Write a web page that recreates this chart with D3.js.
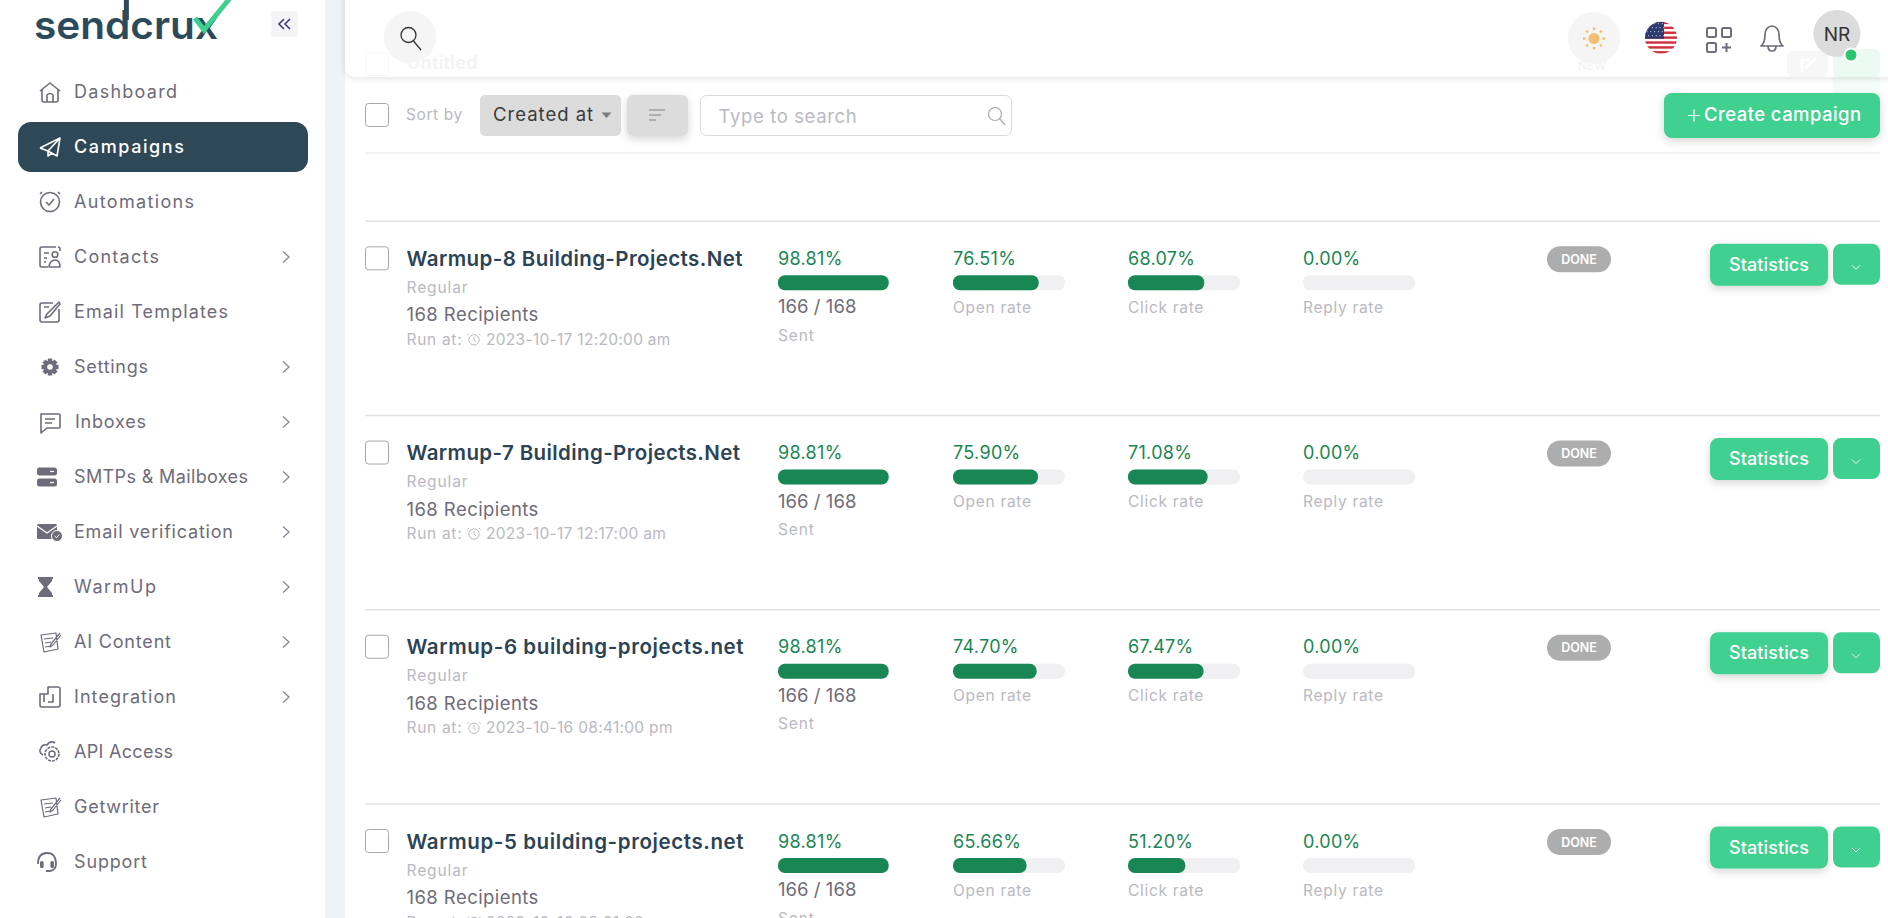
<!DOCTYPE html>
<html lang="en">
<head>
<meta charset="UTF-8">
<title>Campaigns</title>
<script src="https://d3js.org/d3.v7.min.js"></script>
<style>
  html, body { margin: 0; padding: 0; background: #fff; overflow: hidden; }
  svg { display: block; }
  text { font-family: Inter, "Open Sans", sans-serif; }
</style>
</head>
<body>
<svg id="page" width="1888" height="918"></svg>
<script>
// nav items
const navLabels = ["Dashboard","Campaigns","Automations","Contacts","Email Templates","Settings","Inboxes","SMTPs & Mailboxes","Email verification","WarmUp","AI Content","Integration","API Access","Getwriter","Support"];
const navIcons = ["home","plane","alarm","contacts","template","gear","chat","server","mail","hourglass","note","integration","api","note","headset"];
const navHasArrow = [0,0,0,1,0,1,1,1,1,1,1,1,0,0,0];

// campaign rows
const campaignNames = ["Warmup-8 Building-Projects.Net","Warmup-7 Building-Projects.Net","Warmup-6 building-projects.net","Warmup-5 building-projects.net"];
const runTimes = ["2023-10-17 12:20:00 am","2023-10-17 12:17:00 am","2023-10-16 08:41:00 pm","2023-10-16 08:21:00 pm"];
const sentRate = [98.81,98.81,98.81,98.81];
const openRate = [76.51,75.90,74.70,65.66];
const clickRate = [68.07,71.08,67.47,51.20];
const replyRate = [0,0,0,0];
const sentCount = ["166 / 168","166 / 168","166 / 168","166 / 168"];
const recipients = ["168 Recipients","168 Recipients","168 Recipients","168 Recipients"];
const metricLabels = ["Sent","Open rate","Click rate","Reply rate"];
const metricSeries = [sentRate,openRate,clickRate,replyRate];

const NAVY = "#2f4858", GREY = "#6e6b7b", MUTED = "#b9b9c3", GREEN = "#198754", MINT = "#3fd08f", TRACK = "#f0f0f2";

// Poppins is not installed, so these labels are fitted to the widths they have in the screenshot
const navTextWidths = [103,110,120,85,154,74,71,174,159,82,97,102,99,85,73];
const titleTextWidths = [336,333.5,337,337];

const svg = d3.select("#page");
const defs = svg.append("defs");

const shadow = (id, dy, blur, op) => {
  const f = defs.append("filter").attr("id", id).attr("x", "-20%").attr("y", "-30%").attr("width", "140%").attr("height", "170%");
  f.append("feDropShadow").attr("dx", 0).attr("dy", dy).attr("stdDeviation", blur).attr("flood-color", "#000").attr("flood-opacity", op);
};
shadow("barShadow", 1, 3, 0.13);
shadow("btnShadow", 3, 4, 0.16);

const ghost = defs.append("linearGradient").attr("id", "ghostGreen").attr("x1", 0).attr("y1", 0).attr("x2", 0).attr("y2", 1);
ghost.append("stop").attr("offset", 0).attr("stop-color", "#3fd08f").attr("stop-opacity", 0.12);
ghost.append("stop").attr("offset", 1).attr("stop-color", "#3fd08f").attr("stop-opacity", 0.04);

const flagClip = defs.append("clipPath").attr("id", "flagClip");
flagClip.append("circle").attr("r", 16);

function label(g, x, y, str, size, fill, opts) {
  const o = opts || {};
  const t = g.append("text").attr("x", x).attr("y", y)
    .attr("dominant-baseline", "central")
    .attr("text-anchor", o.anchor || "start")
    .attr("font-size", size)
    .attr("font-weight", o.weight || 400)
    .attr("letter-spacing", o.ls == null ? 0.35 : o.ls)
    .attr("fill", fill)
    .text(str);
  if (o.fit) t.attr("letter-spacing", null).attr("textLength", o.fit).attr("lengthAdjust", "spacing");
  return t;
}

// page backgrounds
svg.append("rect").attr("width", 1888).attr("height", 918).attr("fill", "#fff");
svg.append("rect").attr("x", 325).attr("width", 20).attr("height", 918).attr("fill", "#eff2f6");

/* ---------- sidebar ---------- */
const side = svg.append("g");
const logo = side.append("g");
const logoText = logo.append("text").attr("x", 34).attr("y", 38.5).attr("font-size", 39).attr("font-weight", 600)
  .attr("fill", "#2b4a5c").attr("textLength", 184).attr("lengthAdjust", "spacingAndGlyphs").text("sendcrux");
// the d of the logo runs off the top of the page
const dBox = logoText.node().getExtentOfChar(3);
logo.append("path").attr("d", `M${dBox.x + dBox.width - 4} 0V20`).attr("stroke", "#2b4a5c").attr("stroke-width", 5);
logo.append("path").attr("d", "M195 18L204 30L230 -2").attr("fill", "none").attr("stroke", "#3fd08f").attr("stroke-width", 5);

side.append("rect").attr("x", 271).attr("y", 11).attr("width", 27).attr("height", 26).attr("rx", 3).attr("fill", "#f5f5f7");
side.append("path").attr("d", "M284 19L279 24L284 29M290 19L285 24L290 29").attr("fill", "none").attr("stroke", "#41397a").attr("stroke-width", 1.6);

const navY = d3.scaleLinear().domain([0, navLabels.length - 1]).range([92, 862]);

side.append("rect").attr("x", 18).attr("y", navY(1) - 25).attr("width", 290).attr("height", 50).attr("rx", 13).attr("fill", NAVY);

// icons are drawn around (0,0), about 20px across
const iconPaths = {
  home: "M-10 -1L0 -9L10 -1M-8 -2V8Q-8 10 -6 10H6Q8 10 8 8V-2M-3 10V3Q0 0 3 3V10",
  plane: "M-10 1L10 -9L7 9L-2 4L-10 1M-2 4L10 -9M-2 4V9L2 6",
  alarm: "M-8 -10L-10 -8M8 -10L10 -8M-4 0L-1 3L4 -3",
  contacts: "M6 -10H-8Q-10 -10 -10 -8V8Q-10 10 -8 10H-2M-6 -4H-1M-6 1H-3M-6 5H-4M10 -6V-8Q10 -10 8 -10M-1 10Q0 3 5 3Q10 3 10 10Z",
  template: "M3 -9H-8Q-10 -9 -10 -7V8Q-10 10 -8 10H7Q9 10 9 8V-3M-6 -5H-1M-5 6L-3 2L9 -10L10 -8L0 4Z",
  chat: "M-9 -8H9Q10 -8 10 -7V5Q10 6 9 6H-3L-9 11V-7Q-9 -8 -9 -8ZM-5 -3H5M-5 1H2",
  note: "M-9 -7L6 -9L8 7L-6 10ZM-6 -3L3 -4M-5 1L1 0M-5 5L1 4M10 -9L1 2L0 5L3 3L11 -7",
  integration: "M-2 -10H8Q10 -10 10 -8V8Q10 10 8 10H-8Q-10 10 -10 8V-3H-2ZM-6 -3V5M-2 5H3V-3"
};

const navG = side.selectAll("g.nav").data(navLabels).join("g").attr("class", "nav")
  .attr("transform", (d, i) => `translate(0,${navY(i)})`);

navG.each(function(d, i) {
  const g = d3.select(this);
  const color = i === 1 ? "#fff" : GREY;
  const ic = g.append("g").attr("transform", "translate(50,0)");
  const name = navIcons[i];
  if (iconPaths[name]) {
    ic.append("path").attr("d", iconPaths[name]).attr("fill", "none").attr("stroke", color)
      .attr("stroke-width", name === "note" ? 1.2 : 1.6).attr("stroke-linejoin", "round");
  }
  if (name === "alarm") {
    ic.append("circle").attr("r", 9.5).attr("fill", "none").attr("stroke", color).attr("stroke-width", 1.6);
  }
  if (name === "contacts") {
    ic.append("circle").attr("cx", 5).attr("cy", -2.5).attr("r", 2.8).attr("fill", "none").attr("stroke", color).attr("stroke-width", 1.6);
  }
  if (name === "gear") {
    ic.append("path").attr("d", d3.range(8).map(k => {
      const a = k * Math.PI / 4;
      return `M${4 * Math.cos(a)} ${4 * Math.sin(a)}L${8.5 * Math.cos(a)} ${8.5 * Math.sin(a)}`;
    }).join("")).attr("stroke", color).attr("stroke-width", 4.4);
    ic.append("circle").attr("r", 6.5).attr("fill", color);
    ic.append("circle").attr("r", 2.8).attr("fill", "#fff");
  }
  if (name === "server") {
    [-9.5, 1.5].forEach(y => {
      ic.append("rect").attr("x", -13).attr("y", y).attr("width", 20).attr("height", 8).attr("rx", 2.5).attr("fill", color);
      ic.append("path").attr("d", `M0 ${y + 4}H4`).attr("stroke", "#fff").attr("stroke-width", 1.2);
    });
  }
  if (name === "mail") {
    ic.append("rect").attr("x", -13).attr("y", -8).attr("width", 20).attr("height", 15).attr("rx", 1.5).attr("fill", color);
    ic.append("path").attr("d", "M-13 -6L-3 1L7 -6").attr("fill", "none").attr("stroke", "#fff").attr("stroke-width", 1.3);
    ic.append("circle").attr("cx", 7).attr("cy", 4).attr("r", 5.5).attr("fill", color).attr("stroke", "#fff");
    ic.append("path").attr("d", "M4.8 4L6.5 5.7L9.4 2.6").attr("fill", "none").attr("stroke", "#fff");
  }
  if (name === "hourglass") {
    ic.append("path").attr("d", "M-12 -10H3V-8H2V-6L-3 0L2 6V8H3V10H-12V8H-11V6L-6 0L-11 -6V-8H-12Z").attr("fill", color);
  }
  if (name === "api") {
    ic.append("circle").attr("r", 7).attr("cx", 2).attr("cy", 2).attr("fill", "none").attr("stroke", color).attr("stroke-width", 1.6).attr("stroke-dasharray", "3 1");
    ic.append("circle").attr("r", 3).attr("cx", 2).attr("cy", 2).attr("fill", "none").attr("stroke", color).attr("stroke-width", 1.5);
    ic.append("path").attr("d", "M-7 3Q-12 0 -9 -4Q-8 -8 -3 -7Q0 -12 5 -9").attr("fill", "none").attr("stroke", color).attr("stroke-width", 1.5);
  }
  if (name === "headset") {
    ic.append("path").attr("d", "M-12 2Q-12 -9 -3 -9Q6 -9 6 2Q6 8 0 9H-4").attr("fill", "none").attr("stroke", color).attr("stroke-width", 1.8);
    ic.append("rect").attr("x", -10).attr("y", -1).attr("width", 3.6).attr("height", 7).attr("rx", 1.6).attr("fill", color);
    ic.append("rect").attr("x", 0.4).attr("y", -1).attr("width", 3.6).attr("height", 7).attr("rx", 1.6).attr("fill", color);
  }
  label(g, name === "chat" ? 75 : 74, -1, d, 18, color, { weight: i === 1 ? 500 : 400, fit: navTextWidths[i] });
  if (navHasArrow[i]) {
    g.append("path").attr("d", "M283 -5.5L289 0L283 5.5").attr("fill", "none").attr("stroke", "#8a8796").attr("stroke-width", 1.3);
  }
});

/* ---------- campaign rows ---------- */
const rowTop = d3.scaleLinear().domain([0, 3]).range([221.3, 804]);
const columnX = [778, 953, 1128, 1303];
const barWidth = d3.scaleLinear().domain([0, 100]).range([0, 112]);

const main = svg.append("g");
const checkbox = (g, x, y) => g.append("rect").attr("x", x + 0.5).attr("y", y + 0.5).attr("width", 23).attr("height", 23)
  .attr("rx", 3).attr("fill", "#fff").attr("stroke", "#a8a8ae");

const rows = main.selectAll("g.row").data(campaignNames).join("g").attr("class", "row")
  .attr("transform", (d, i) => `translate(0,${rowTop(i)})`);

rows.each(function(d, i) {
  const g = d3.select(this);
  g.append("line").attr("x1", 365).attr("x2", 1880).attr("stroke", "#e2e2e4").attr("stroke-width", 1.4);
  checkbox(g, 365, 25);
  label(g, 406.5, 37, d, 20.5, "#2c4356", { weight: 600, fit: titleTextWidths[i] });
  label(g, 406.5, 66, "Regular", 15.5, MUTED, { ls: 0.9 });
  label(g, 406.5, 93, recipients[i], 18.5, GREY, { ls: 0.43 });
  label(g, 406.5, 118, "Run at:", 15.5, MUTED, { ls: 0.7 });
  const clock = g.append("g").attr("transform", "translate(474,118.5)").attr("fill", "none").attr("stroke", MUTED);
  clock.append("circle").attr("r", 5.2);
  clock.append("path").attr("d", "M0 -3V0L2 2M-5 -6L-6.5 -4.5M5 -6L6.5 -4.5");
  label(g, 486, 118, runTimes[i], 15.5, MUTED, { ls: 0.3 });

  metricSeries.forEach((series, m) => {
    const x = columnX[m], v = series[i];
    label(g, x, 37, v.toFixed(2) + "%", 18, GREEN, { ls: 0.3 });
    g.append("rect").attr("x", x).attr("y", 54).attr("width", barWidth(100)).attr("height", 15).attr("rx", 7).attr("fill", TRACK);
    if (v > 0) {
      g.append("rect").attr("x", x).attr("y", 54).attr("width", barWidth(v)).attr("height", 15).attr("rx", 7).attr("fill", GREEN);
    }
    if (m === 0) {
      label(g, x, 85, sentCount[i], 18.5, GREY, { ls: 0.05 });
      label(g, x, 114, metricLabels[m], 15.5, MUTED, { ls: 0.9 });
    } else {
      label(g, x, 86, metricLabels[m], 15.5, MUTED, { ls: 0.7 });
    }
  });

  g.append("rect").attr("x", 1547).attr("y", 25).attr("width", 64).attr("height", 26).attr("rx", 13).attr("fill", "#adadad");
  label(g, 1579, 38, "DONE", 12.5, "#fff", { anchor: "middle", weight: 600, ls: 0 });
  g.append("rect").attr("x", 1710).attr("y", 22.5).attr("width", 118).attr("height", 42).attr("rx", 8).attr("fill", MINT).attr("filter", "url(#btnShadow)");
  label(g, 1769, 43, "Statistics", 18, "#fff", { anchor: "middle", weight: 500, ls: 0.1 });
  g.append("rect").attr("x", 1833).attr("y", 22.5).attr("width", 47).attr("height", 41).attr("rx", 8).attr("fill", MINT);
  g.append("path").attr("d", "M1852 44L1856 48L1860 44").attr("fill", "none").attr("stroke", "#fff").attr("stroke-width", 0.9);
});

/* ---------- toolbar ---------- */
const bar = svg.append("g");
// ghost of the row scrolled under the top bar
bar.append("rect").attr("x", 1833).attr("y", 49).attr("width", 47).attr("height", 46).attr("fill", "url(#ghostGreen)");
bar.append("line").attr("x1", 365).attr("x2", 1880).attr("y1", 153).attr("y2", 153).attr("stroke", "#efeff1").attr("stroke-width", 1.4);
checkbox(bar, 365, 103);
label(bar, 406, 114, "Sort by", 15.5, MUTED, { ls: 0.6 });
bar.append("rect").attr("x", 480).attr("y", 95).attr("width", 141).attr("height", 41).attr("rx", 5).attr("fill", "#dcdcdc");
label(bar, 493, 114, "Created at", 18.5, "#3a3a3a", { ls: 1 });
bar.append("path").attr("d", "M601.5 112.5H611.5L606.5 118Z").attr("fill", "#7d7d7d");
bar.append("rect").attr("x", 627).attr("y", 95).attr("width", 61).attr("height", 41).attr("rx", 6).attr("fill", "#dcdcdc").attr("filter", "url(#btnShadow)");
bar.append("path").attr("d", "M649 110H665M649 115H661M649 120H656").attr("stroke", "#777").attr("stroke-width", 0.9);
bar.append("rect").attr("x", 700.5).attr("y", 95.5).attr("width", 311).attr("height", 40).attr("rx", 6).attr("fill", "#fff").attr("stroke", "#dcdce0");
label(bar, 718.5, 115.5, "Type to search", 18.5, MUTED, { ls: 0.63 });
const glassSmall = bar.append("g").attr("transform", "translate(996,115)").attr("fill", "none").attr("stroke", "#a8a8ae").attr("stroke-width", 1.2);
glassSmall.append("circle").attr("cx", -1).attr("cy", -1).attr("r", 6.5);
glassSmall.append("path").attr("d", "M3.5 3.5L9 10");

bar.append("rect").attr("x", 1664).attr("y", 93).attr("width", 216).attr("height", 45).attr("rx", 8).attr("fill", MINT).attr("filter", "url(#btnShadow)");
bar.append("path").attr("d", "M1688 115.5H1700M1694 109.5V121.5").attr("stroke", "#fff").attr("stroke-width", 1.2);
label(bar, 1704, 114, "Create campaign", 18.5, "#fff", { weight: 500, ls: 0.43 });

/* ---------- top bar ---------- */
const topBar = svg.append("g");
topBar.append("path").attr("d", "M345 -10H1900V65Q1900 77 1888 77H357Q345 77 345 65Z").attr("fill", "#fff").attr("filter", "url(#barShadow)");
// faded content under the translucent bar
topBar.append("rect").attr("x", 365.5).attr("y", 52.5).attr("width", 23).attr("height", 23).attr("rx", 3).attr("fill", "none").attr("stroke", "#f8f8f8");
label(topBar, 407, 62, "Untitled", 18, "#f3f3f4", { weight: 600, ls: 0.3 });
label(topBar, 1578, 65, "NEW", 12, "#f6f4f4", { weight: 500, ls: 0 });
topBar.append("rect").attr("x", 1787).attr("y", 51).attr("width", 41).attr("height", 26).attr("rx", 6).attr("fill", "#f7f7f7");
topBar.append("rect").attr("x", 1833).attr("y", 49).attr("width", 47).attr("height", 28).attr("rx", 6).attr("fill", "#ecfaf4");
topBar.append("path").attr("d", "M1802 72V60H1810M1806 68L1816 58").attr("fill", "none").attr("stroke", "#fff").attr("stroke-width", 2.5);

topBar.append("circle").attr("cx", 410).attr("cy", 37).attr("r", 26).attr("fill", "#f5f5f5");
const glass = topBar.append("g").attr("transform", "translate(410,37)").attr("fill", "none").attr("stroke", "#333").attr("stroke-width", 1.3);
glass.append("circle").attr("cx", -1.5).attr("cy", -2).attr("r", 7.5);
glass.append("path").attr("d", "M3.5 4L11 13");

topBar.append("circle").attr("cx", 1594).attr("cy", 38).attr("r", 26).attr("fill", "#f5f5f5");
const sun = topBar.append("g").attr("transform", "translate(1594,38.5)");
sun.append("circle").attr("r", 5.5).attr("fill", "#f4bf73");
sun.append("path").attr("d", d3.range(8).map(k => {
  const a = k * Math.PI / 4;
  return `M${8.5 * Math.cos(a)} ${8.5 * Math.sin(a)}L${11 * Math.cos(a)} ${11 * Math.sin(a)}`;
}).join("")).attr("stroke", "#f4bf73").attr("stroke-width", 2.4);

// flag
const flag = topBar.append("g").attr("transform", "translate(1661,37.7)").attr("clip-path", "url(#flagClip)");
flag.append("rect").attr("x", -16).attr("y", -16).attr("width", 32).attr("height", 32).attr("fill", "#fff");
d3.range(7).forEach(k => {
  flag.append("rect").attr("x", -16).attr("y", -16 + k * 4.9).attr("width", 32).attr("height", 2.45).attr("fill", "#d0313f");
});
flag.append("rect").attr("x", -16).attr("y", -16).attr("width", 19).attr("height", 17).attr("fill", "#2c3a6e");
d3.range(4).forEach(r => d3.range(5).forEach(c => {
  flag.append("circle").attr("cx", -14 + c * 3.8 + (r % 2) * 1.6).attr("cy", -14 + r * 4).attr("r", 0.6).attr("fill", "#c9cfe6");
}));

// grid plus icon
const grid = topBar.append("g").attr("fill", "none").attr("stroke", GREY).attr("stroke-width", 2);
[[1707, 28], [1722, 28], [1707, 43]].forEach(p => {
  grid.append("rect").attr("x", p[0]).attr("y", p[1]).attr("width", 9).attr("height", 9).attr("rx", 1.5);
});
grid.append("path").attr("d", "M1722 47.5H1731M1726.5 43V52");

// bell
topBar.append("path").attr("d", "M1761 46Q1765 43 1765 35Q1765 27 1772 26Q1779 27 1779 35Q1779 43 1783 46ZM1768 46Q1768 51 1772 51Q1776 51 1776 46")
  .attr("fill", "none").attr("stroke", GREY).attr("stroke-width", 1.7).attr("stroke-linejoin", "round");

// avatar
topBar.append("circle").attr("cx", 1837).attr("cy", 33.5).attr("r", 23.5).attr("fill", "#dcdcdc");
label(topBar, 1837, 34, "NR", 19, "#333", { anchor: "middle", ls: 0 });
topBar.append("circle").attr("cx", 1851).attr("cy", 55).attr("r", 6.5).attr("fill", "#28c76f").attr("stroke", "#fff").attr("stroke-width", 2);
</script>
</body>
</html>
